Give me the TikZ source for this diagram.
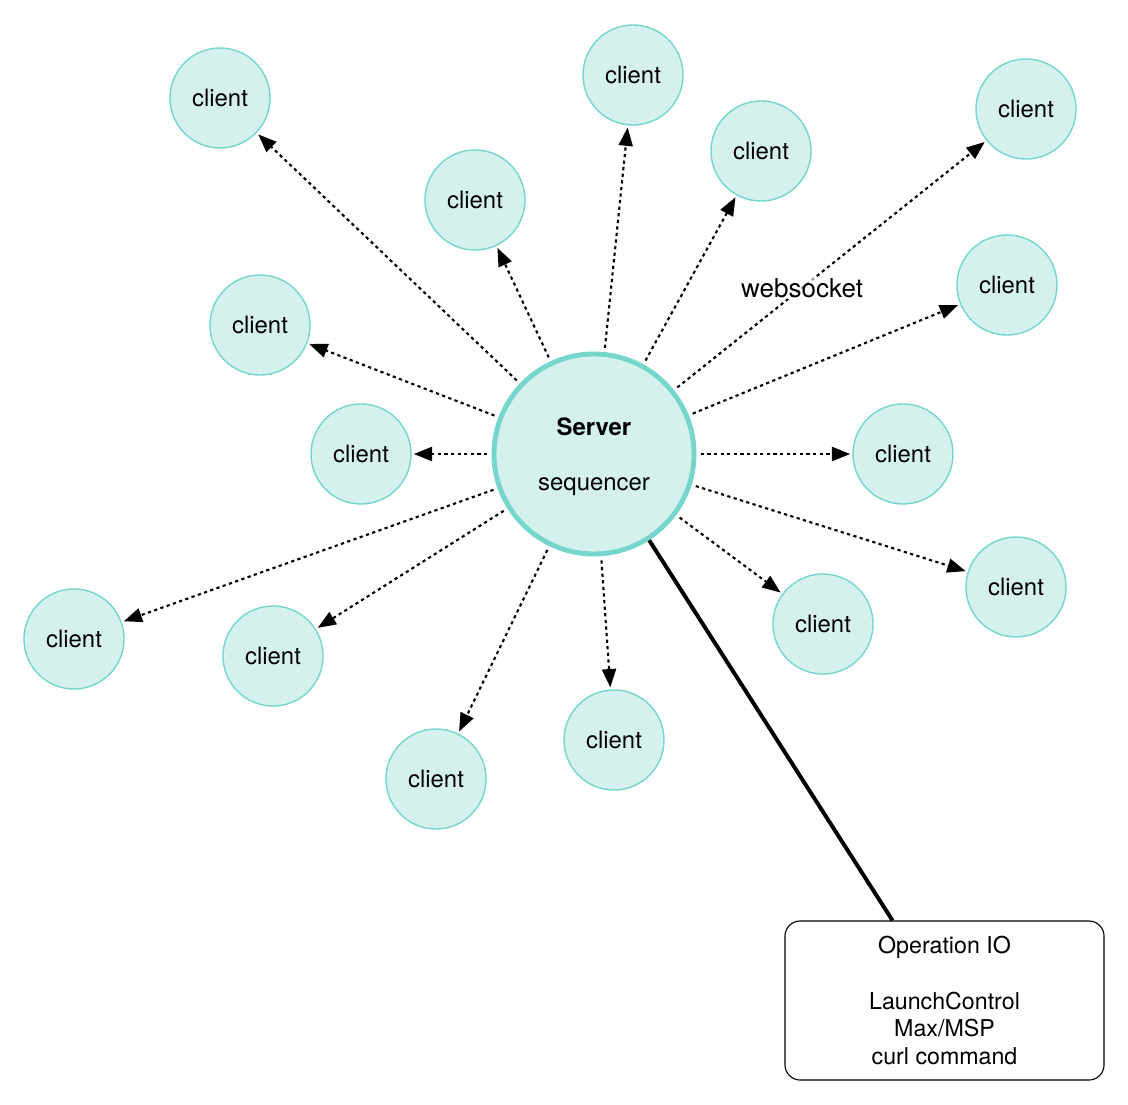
\documentclass[tikz,border=0pt]{standalone}
\usepackage{fontspec}
\setmainfont{TeX Gyre Heros}
\usetikzlibrary{positioning,arrows.meta}
\definecolor{wsFill}{RGB}{212,241,237}
\definecolor{wsTeal}{RGB}{118,214,204}

\begin{document}
\begin{tikzpicture}[x=0.025cm, y=-0.025cm,
  client/.style={circle, draw=wsTeal, fill=wsFill, line width=1pt, minimum size=2.5cm, inner sep=0pt, font=\fontsize{17}{20}\selectfont},
  server/.style={circle, draw=wsTeal, fill=wsFill, line width=3.5pt, minimum size=5cm, inner sep=0pt, align=center, font=\fontsize{17}{20}\selectfont},
  link/.style={-{Triangle[length=13pt,width=10pt]}, line width=1.5pt, dash pattern=on 2.3pt off 2.4pt, shorten <=3pt, shorten >=1.5pt},
  opbox/.style={draw, line width=0.8pt, rounded corners=0.38cm, minimum width=7.975cm, minimum height=3.975cm, align=center, font=\fontsize{16.5}{19.85}\selectfont}
  ]
  \useasboundingbox (0,0) rectangle (1128,1104);

  % Server
  \node[server] (srv) at (594,454) {\rule{0pt}{16.5pt}\textbf{Server}\\[19.7pt]sequencer};

  % Clients
  \node[client] (cl1)  at (220,98)  {client};
  \node[client] (cl2)  at (633,75)  {client};
  \node[client] (cl3)  at (475,200) {client};
  \node[client] (cl4)  at (761,151) {client};
  \node[client] (cl5)  at (1026,109) {client};
  \node[client] (cl6)  at (1007,285) {client};
  \node[client] (cl7)  at (260,325) {client};
  \node[client] (cl8)  at (361,454) {client};
  \node[client] (cl9)  at (903,454) {client};
  \node[client] (cl10) at (1016,587) {client};
  \node[client] (cl11) at (74,639)  {client};
  \node[client] (cl12) at (273,656) {client};
  \node[client] (cl13) at (823,624) {client};
  \node[client] (cl14) at (614,740) {client};
  \node[client] (cl15) at (436,779) {client};

  % Websocket links
  \draw[link] (srv) -- (cl1);
  \draw[link] (srv) -- (cl2);
  \draw[link] (srv) -- (cl3);
  \draw[link] (srv) -- (cl4);
  \draw[link] (srv) -- node[pos=0.41, fill=white, fill opacity=0.6, text opacity=1, inner sep=1pt, font=\fontsize{18.5}{22}\selectfont] {websocket} (cl5);
  \draw[link] (srv) -- (cl6);
  \draw[link] (srv) -- (cl7);
  \draw[link] (srv) -- (cl8);
  \draw[link] (srv) -- (cl9);
  \draw[link] (srv) -- (cl10);
  \draw[link] (srv) -- (cl11);
  \draw[link] (srv) -- (cl12);
  \draw[link] (srv) -- (cl13);
  \draw[link] (srv) -- (cl14);
  \draw[link] (srv) -- (cl15);

  % Operation IO
  \node[opbox] (opio) at (944.5,1000.5) {Operation IO\\[19.85pt]LaunchControl\\Max/MSP\\curl command};
  \draw[line width=2.8pt] (srv) -- ([xshift=-1.3cm]opio.north);
\end{tikzpicture}
\end{document}
